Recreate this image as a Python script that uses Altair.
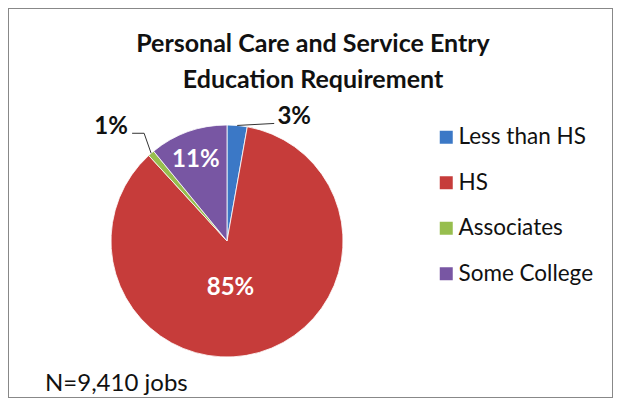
import altair as alt
import pandas as pd

categories = ["Less than HS", "HS", "Associates", "Some College"]
shares = [2.8, 85.4, 0.9, 10.9]
colors = ["#3B78C6", "#C63C3A", "#97BE4E", "#7856A3"]
title_lines = ["Personal Care and Service Entry", "Education Requirement"]
note = "N=9,410 jobs"

df = pd.DataFrame({"category": categories, "share": shares,
                   "order": list(range(len(categories)))})

CX, CY, R = 219, 233, 116
FONT = "Lato"

base = alt.Chart(df)


def geo(chart, r_expr):
    return chart.transform_joinaggregate(total="sum(share)").transform_window(
        cum="sum(share)", sort=[alt.SortField("order")], frame=[None, 0]
    ).transform_calculate(
        mid="2*PI*(datum.cum - datum.share/2)/datum.total"
    ).transform_calculate(
        rr=r_expr
    ).transform_calculate(
        px=f"{CX} + datum.rr*sin(datum.mid)"
    ).transform_calculate(
        py=f"{CY} - datum.rr*cos(datum.mid)"
    ).transform_calculate(
        label="format(datum.share/datum.total, '.0%')"
    )


color = alt.Color(
    "category:N",
    scale=alt.Scale(domain=categories, range=colors),
    sort=categories,
    legend=alt.Legend(
        orient="none", legendX=427, legendY=118, title=None,
        symbolType="square", symbolSize=169, symbolStrokeWidth=0,
        symbolOpacity=1, labelFont=FONT, labelFontSize=22.5, labelColor="#111",
        rowPadding=22.5, labelOffset=1, padding=0,
    ),
)

arc = base.mark_arc(outerRadius=R, stroke="white", strokeWidth=0.8).encode(
    theta=alt.Theta("share:Q", stack=True),
    color=color,
    order=alt.Order("order:Q"),
    x=alt.value(CX),
    y=alt.value(CY),
)

inside = geo(base, "datum.category === 'HS' ? 52 : 87").transform_filter(
    "datum.category === 'HS' || datum.category === 'Some College'"
).transform_calculate(
    lx="datum.px + (datum.category === 'HS' ? -11 : -2)"
).transform_calculate(
    ly="datum.py + (datum.category === 'HS' ? -3 : 1)"
).mark_text(font=FONT, fontSize=24, fontWeight="bold", color="white",
            baseline="middle", align="center").encode(
    x=alt.X("lx:Q", scale=None, axis=None),
    y=alt.Y("ly:Q", scale=None, axis=None),
    text="label:N",
)

outside_base = geo(base, str(R)).transform_filter(
    "datum.category === 'Less than HS' || datum.category === 'Associates'"
).transform_calculate(
    bx="datum.px + (datum.category === 'Associates' ? -7 : 37)"
).transform_calculate(
    by="datum.py + (datum.category === 'Associates' ? -20 : -2)"
).transform_calculate(
    ex="datum.bx + (datum.category === 'Associates' ? -12 : 0)"
).transform_calculate(
    lx="datum.ex + (datum.category === 'Associates' ? -21 : 20)"
)

lead1 = outside_base.mark_rule(color="#333", strokeWidth=1).encode(
    x=alt.X("px:Q", scale=None, axis=None),
    y=alt.Y("py:Q", scale=None, axis=None),
    x2="bx:Q",
    y2="by:Q",
)
lead2 = outside_base.mark_rule(color="#333", strokeWidth=1).encode(
    x=alt.X("bx:Q", scale=None, axis=None),
    y=alt.Y("by:Q", scale=None, axis=None),
    x2="ex:Q",
    y2="by:Q",
)
outside = outside_base.mark_text(font=FONT, fontSize=24, fontWeight="bold",
                                 color="#111", baseline="alphabetic",
                                 align="center", dy=1).encode(
    x=alt.X("lx:Q", scale=None, axis=None),
    y=alt.Y("by:Q", scale=None, axis=None),
    text="label:N",
)

title = alt.Chart(pd.DataFrame({"t": ["\n".join(title_lines)]})).mark_text(
    font=FONT, fontSize=25, fontWeight="bold", color="#111",
    align="center", baseline="alphabetic", lineBreak="\n", lineHeight=36,
).encode(x=alt.value(305), y=alt.value(44), text="t:N")

note_layer = alt.Chart(pd.DataFrame({"t": [note]})).mark_text(
    font=FONT, fontSize=24, color="#111", align="left", baseline="alphabetic",
).encode(x=alt.value(37), y=alt.value(383), text="t:N")

chart = alt.layer(arc, lead1, lead2, inside, outside, title, note_layer).properties(
    width=605, height=390, padding=0
).configure_view(stroke="#888888", strokeWidth=2)

chart.save("out.html", embed_options={"renderer": "svg", "actions": False})
